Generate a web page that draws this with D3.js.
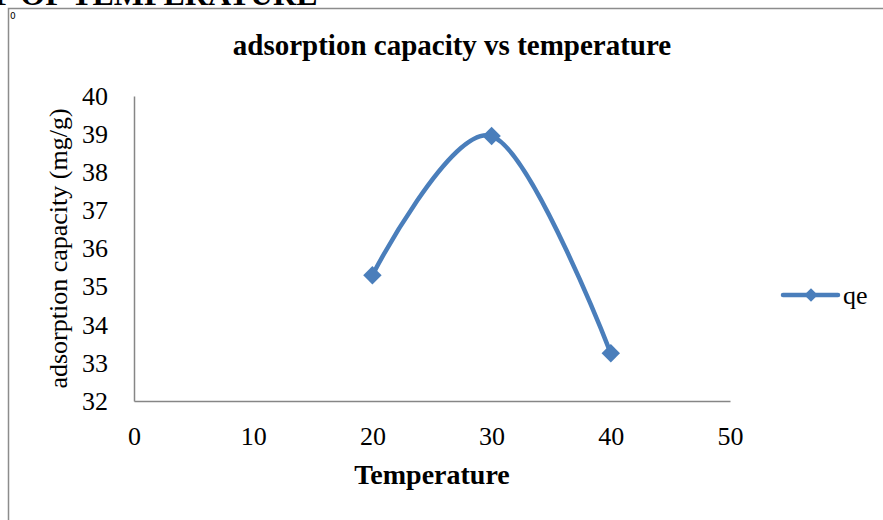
<!DOCTYPE html>
<html>
<head>
<meta charset="utf-8">
<script src="https://cdn.jsdelivr.net/npm/d3@7"></script>
<style>
  body { margin: 0; background: #fff; }
  svg text { font-family: "Liberation Serif", "Times New Roman", serif; fill: #000; }
</style>
</head>
<body>
<div id="chart"></div>
<script>
// values
const temps = [20, 30, 40];
const qe = [35.3, 38.95, 33.25];
const xTicks = [0, 10, 20, 30, 40, 50];
const yTicks = [32, 33, 34, 35, 36, 37, 38, 39, 40];
const seriesName = "qe";

const W = 883, H = 520;
const margin = {top: 96, right: 153, bottom: 119, left: 134};

const svg = d3.select("#chart").append("svg")
    .attr("width", W)
    .attr("height", H);

// heading of the page, cut off at the top like in the source document
svg.append("text")
    .attr("x", -6)
    .attr("y", 5)
    .style("font-size", "32px")
    .style("font-weight", "bold")
    .text("F OF TEMPERATURE");

// chart frame
svg.append("rect")
    .attr("x", 8.5).attr("y", 8.5)
    .attr("width", 900).attr("height", 600)
    .attr("fill", "none")
    .attr("stroke", "#8c8c8c")
    .attr("stroke-width", 1.5);

svg.append("text")
    .attr("x", 10).attr("y", 19)
    .style("font-family", "DejaVu Sans")
    .style("font-size", "9px")
    .text("0");

const x = d3.scaleLinear().domain([0, 50]).range([margin.left, W - margin.right]);
const y = d3.scaleLinear().domain([32, 40]).range([H - margin.bottom, margin.top]);

const g = svg.append("g");

// axes
const xAxis = g.append("g")
    .attr("transform", "translate(0," + y(32) + ")")
    .call(d3.axisBottom(x).tickValues(xTicks).tickSize(0).tickPadding(26));
const yAxis = g.append("g")
    .attr("transform", "translate(" + x(0) + ",0)")
    .call(d3.axisLeft(y).tickValues(yTicks).tickSize(0).tickPadding(26));

[xAxis, yAxis].forEach(a => {
    a.select(".domain").attr("stroke", "#868686").attr("stroke-width", 1.5);
    a.selectAll("text")
        .style("font-family", "'Liberation Serif', serif")
        .style("font-size", "26px");
});

// titles
svg.append("text")
    .attr("x", 452).attr("y", 55)
    .attr("text-anchor", "middle")
    .style("font-size", "29px")
    .style("font-weight", "bold")
    .text("adsorption capacity vs temperature");

svg.append("text")
    .attr("x", 432).attr("y", 484)
    .attr("text-anchor", "middle")
    .style("font-size", "28px")
    .style("font-weight", "bold")
    .text("Temperature");

svg.append("text")
    .attr("transform", "translate(67," + ((y(32) + y(40)) / 2) + ") rotate(-90)")
    .attr("text-anchor", "middle")
    .style("font-size", "26px")
    .text("adsorption capacity (mg/g)");

// series
const pts = temps.map((t, i) => [t, qe[i]]);
const line = d3.line()
    .x(d => x(d[0]))
    .y(d => y(d[1]))
    .curve(d3.curveCardinal.tension(0));

const blue = "#4a7ebb";

g.append("path")
    .datum(pts)
    .attr("d", line)
    .attr("fill", "none")
    .attr("stroke", blue)
    .attr("stroke-width", 4.5);

const diamond = d3.symbol().type(d3.symbolSquare).size(170);
g.selectAll(".pt")
    .data(pts)
    .enter().append("path")
    .attr("class", "pt")
    .attr("d", diamond)
    .attr("transform", d => "translate(" + x(d[0]) + "," + y(d[1]) + ") rotate(45)")
    .attr("fill", blue);

// legend
const lg = svg.append("g").attr("transform", "translate(783,295)");
lg.append("line")
    .attr("x1", 0).attr("x2", 55)
    .attr("stroke", blue).attr("stroke-width", 4.5)
    .attr("stroke-linecap", "round");
lg.append("path")
    .attr("d", d3.symbol().type(d3.symbolSquare).size(90))
    .attr("transform", "translate(28,0) rotate(45)")
    .attr("fill", blue);
lg.append("text")
    .attr("x", 60).attr("y", 9)
    .style("font-size", "26px")
    .text(seriesName);
</script>
</body>
</html>
